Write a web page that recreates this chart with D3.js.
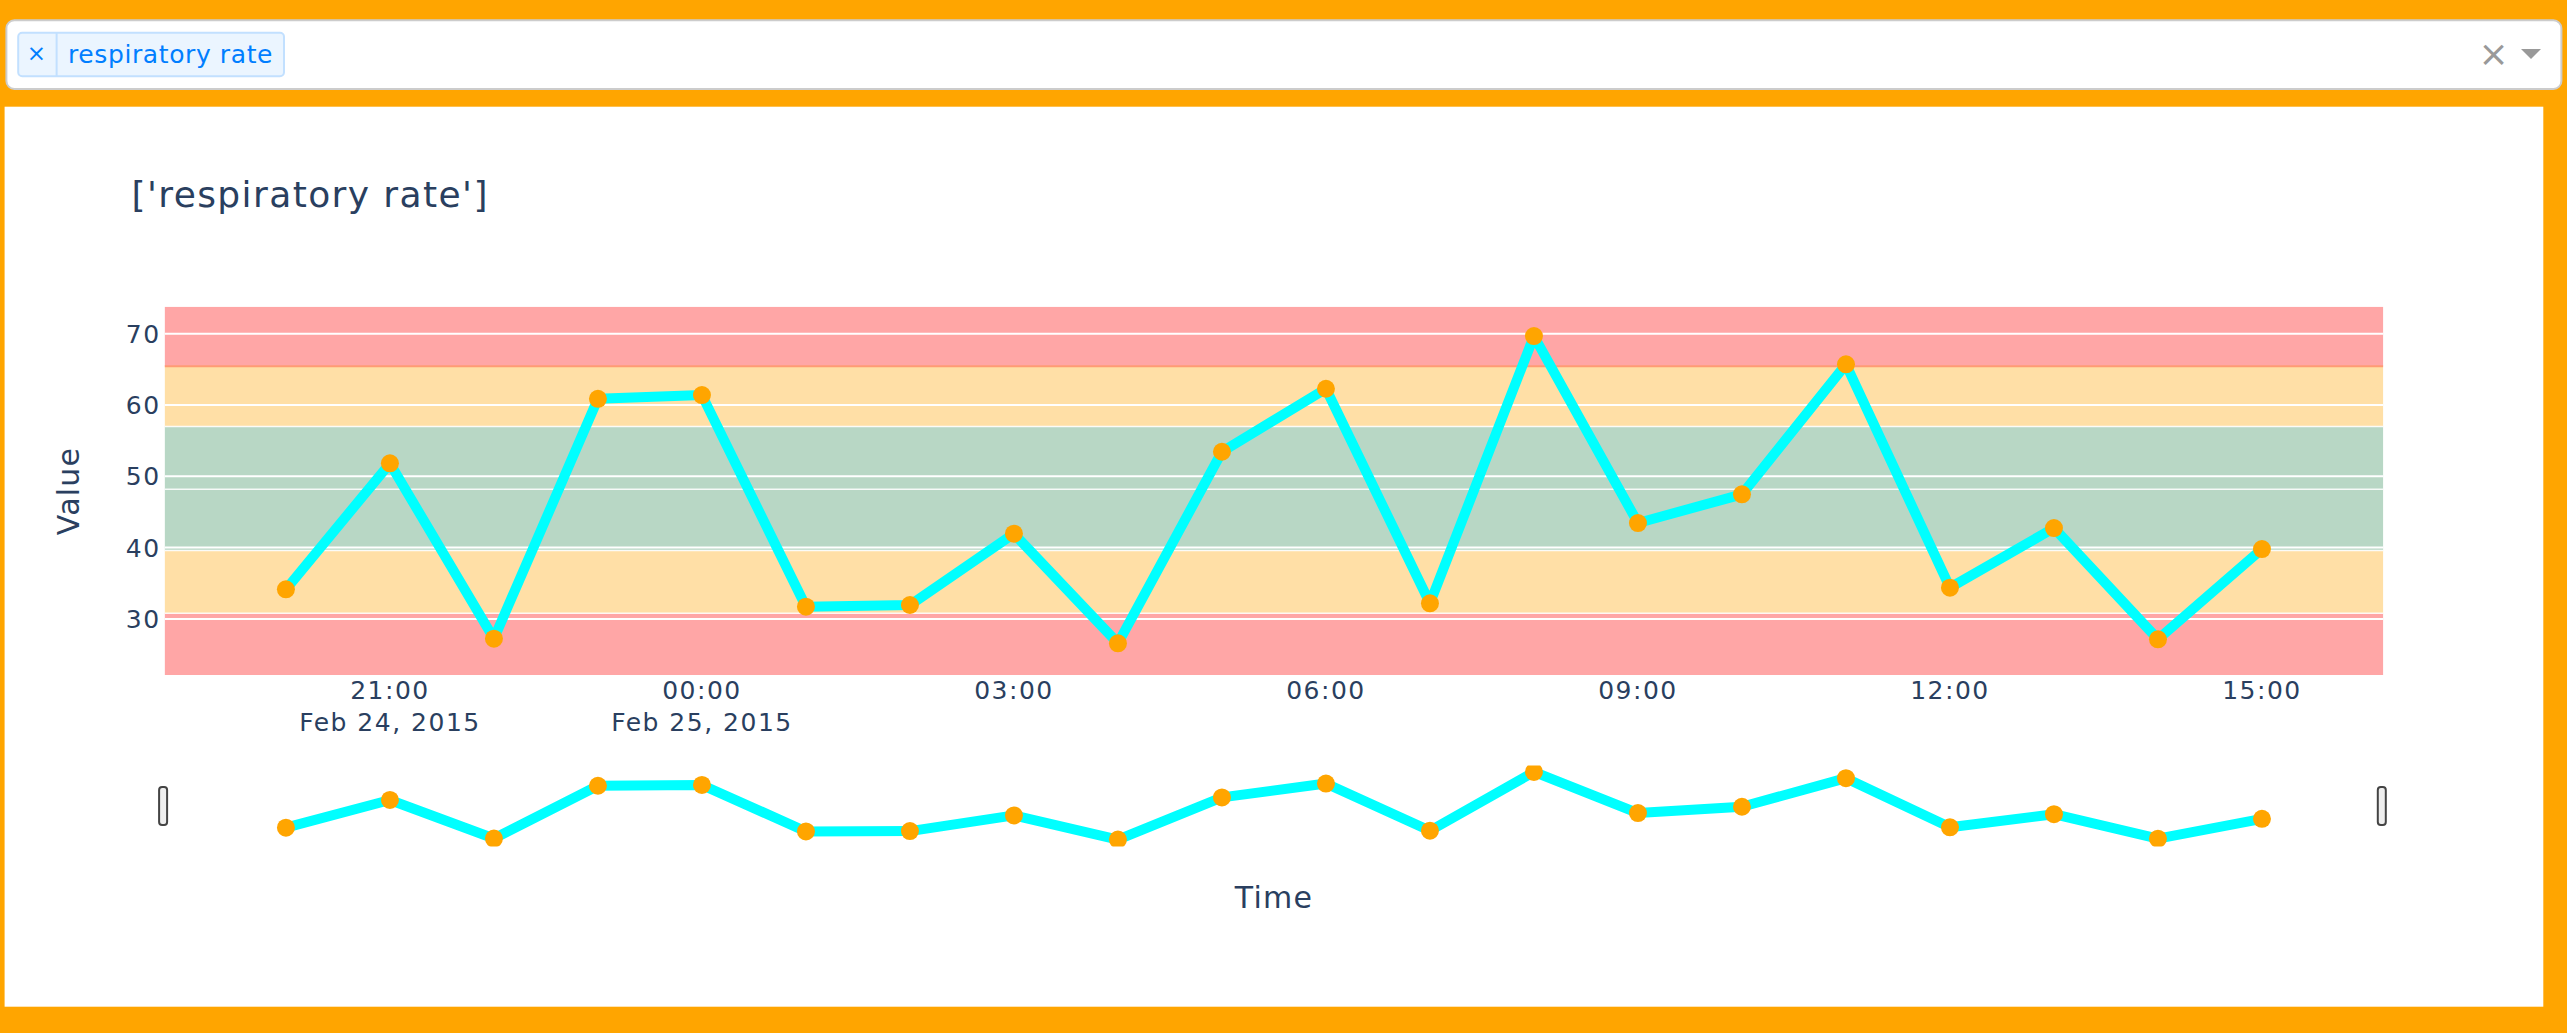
<!DOCTYPE html>
<html>
<head>
<meta charset="utf-8">
<script src="https://cdn.jsdelivr.net/npm/d3@7"></script>
<style>
  body { margin: 0; background: #ffa500; overflow: hidden; }
  svg { display: block; }
  text { font-family: "DejaVu Sans", Verdana, sans-serif; }
</style>
</head>
<body>
<svg id="chart" width="2567" height="1033"></svg>
<script>
// hourly readings
var times = ["2015-02-24 20:00", "2015-02-24 21:00", "2015-02-24 22:00", "2015-02-24 23:00",
             "2015-02-25 00:00", "2015-02-25 01:00", "2015-02-25 02:00", "2015-02-25 03:00",
             "2015-02-25 04:00", "2015-02-25 05:00", "2015-02-25 06:00", "2015-02-25 07:00",
             "2015-02-25 08:00", "2015-02-25 09:00", "2015-02-25 10:00", "2015-02-25 11:00",
             "2015-02-25 12:00", "2015-02-25 13:00", "2015-02-25 14:00", "2015-02-25 15:00"];
var values = [34.15, 51.82, 27.22, 60.88, 61.40, 31.71, 31.95, 41.95, 26.58, 53.45,
              62.29, 32.19, 69.68, 43.45, 47.48, 65.71, 34.38, 42.75, 27.14, 39.80];

// alarm bands (low, high, colour)
var bandLow   = [22.13, 30.8, 39.6, 48.2, 57.0, 65.45];
var bandHigh  = [30.8, 39.6, 48.2, 57.0, 65.45, 73.8];
var bandColor = ["#ffa6a6", "#ffdfa6", "#b8d7c5", "#b8d7c5", "#ffdfa6", "#ffa6a6"];

var yTicks = [30, 40, 50, 60, 70];
var xRange = ["2015-02-24 18:50", "2015-02-25 16:10"];
var yRange = [22.13, 73.8];
var selected = ["respiratory rate"];

(function() {
var parse = d3.timeParse("%Y-%m-%d %H:%M");
var data = times.map(function(t, i) { return {t: parse(t), v: values[i]}; });

var svg = d3.select("#chart");
var textColor = "#2a3f5f";

// ---- dropdown ----
svg.append("rect")
    .attr("x", 6.4).attr("y", 20.3)
    .attr("width", 2555).attr("height", 68.7)
    .attr("rx", 8)
    .attr("fill", "#fff").attr("stroke", "#ccc").attr("stroke-width", 2);

var tag = svg.append("g");
tag.append("rect")
    .attr("x", 18.2).attr("y", 32.7)
    .attr("width", 265.8).attr("height", 43.6)
    .attr("rx", 4)
    .attr("fill", "#ebf5ff").attr("stroke", "#c2e0ff").attr("stroke-width", 2);
tag.append("line")
    .attr("x1", 56.6).attr("x2", 56.6).attr("y1", 33).attr("y2", 76)
    .attr("stroke", "#c2e0ff").attr("stroke-width", 2);
tag.append("text")
    .attr("x", 36.4).attr("y", 61)
    .attr("text-anchor", "middle")
    .attr("font-size", 23).attr("fill", "#007eff")
    .text("×");
tag.append("text")
    .attr("x", 68).attr("y", 62.5)
    .attr("font-size", 25)
    .attr("letter-spacing", 0.6)
    .attr("fill", "#007eff")
    .text(selected[0]);

svg.append("text")
    .attr("x", 2493.5).attr("y", 66)
    .attr("text-anchor", "middle")
    .attr("font-size", 36).attr("fill", "#999")
    .text("×");
svg.append("path")
    .attr("d", "M2521,49 L2541,49 L2531,59 Z")
    .attr("fill", "#999");

// ---- chart card ----
svg.append("rect")
    .attr("x", 4.6).attr("y", 106.7)
    .attr("width", 2538.7).attr("height", 900)
    .attr("fill", "#fff");

svg.append("text")
    .attr("x", 131.5).attr("y", 207)
    .attr("font-size", 36)
    .attr("letter-spacing", 1.4)
    .attr("fill", textColor)
    .text("['" + selected.join("', '") + "']");

var plotLeft = 164.6, plotRight = 2383.3, plotTop = 306.7, plotBottom = 675;
var sliderTop = 765.5, sliderBottom = 846.5;

var x = d3.scaleTime()
    .domain(xRange.map(parse))
    .range([plotLeft, plotRight]);
var y = d3.scaleLinear()
    .domain(yRange)
    .range([plotBottom, plotTop]);
var ys = d3.scaleLinear()
    .domain(yRange)
    .range([sliderBottom, sliderTop]);

var defs = svg.append("defs");
defs.append("clipPath").attr("id", "plotclip")
  .append("rect").attr("x", plotLeft).attr("y", plotTop)
    .attr("width", plotRight - plotLeft).attr("height", plotBottom - plotTop);
defs.append("clipPath").attr("id", "sliderclip")
  .append("rect").attr("x", plotLeft).attr("y", sliderTop)
    .attr("width", plotRight - plotLeft).attr("height", sliderBottom - sliderTop);

var plot = svg.append("g").attr("clip-path", "url(#plotclip)");

// bands
plot.selectAll(".band")
    .data(bandLow)
    .enter().append("rect")
    .attr("class", "band")
    .attr("x", plotLeft)
    .attr("width", plotRight - plotLeft)
    .attr("y", function(d, i) { return y(bandHigh[i]); })
    .attr("height", function(d, i) { return y(bandLow[i]) - y(bandHigh[i]); })
    .attr("fill", function(d, i) { return bandColor[i]; });

// band edges (top one is the red/orange overlap)
var lastEdge = bandLow.length - 2;
plot.selectAll(".edge")
    .data(bandLow.slice(1))
    .enter().append("line")
    .attr("class", "edge")
    .attr("x1", plotLeft).attr("x2", plotRight)
    .attr("y1", function(d) { return y(d); })
    .attr("y2", function(d) { return y(d); })
    .attr("stroke", function(d, i) { return i === lastEdge ? "#ff9b74" : "#fff"; })
    .attr("stroke-opacity", function(d, i) { return i === lastEdge ? 1 : 0.85; })
    .attr("stroke-width", function(d, i) { return i === lastEdge ? 2 : 1.5; });

// grid
plot.selectAll(".grid")
    .data(yTicks)
    .enter().append("line")
    .attr("class", "grid")
    .attr("x1", plotLeft).attr("x2", plotRight)
    .attr("y1", function(d) { return y(d); })
    .attr("y2", function(d) { return y(d); })
    .attr("stroke", "#fff").attr("stroke-width", 2);

var line = d3.line()
    .x(function(d) { return x(d.t); })
    .y(function(d) { return y(d.v); });

plot.append("path")
    .datum(data)
    .attr("d", line)
    .attr("fill", "none")
    .attr("stroke", "#00ffff")
    .attr("stroke-width", 10)
    .attr("stroke-linejoin", "round");

plot.selectAll(".pt")
    .data(data)
    .enter().append("circle")
    .attr("class", "pt")
    .attr("cx", function(d) { return x(d.t); })
    .attr("cy", function(d) { return y(d.v); })
    .attr("r", 9)
    .attr("fill", "#ffa500");

// y tick labels
svg.append("g")
    .selectAll("text")
    .data(yTicks)
    .enter().append("text")
    .attr("x", plotLeft - 4)
    .attr("y", function(d) { return y(d); })
    .attr("dy", "0.36em")
    .attr("text-anchor", "end")
    .attr("font-size", 25)
    .attr("letter-spacing", 1.5)
    .attr("fill", textColor)
    .text(function(d) { return d; });

// x tick labels
var xTicks = x.ticks(d3.timeHour.every(3));
var fmtTime = d3.timeFormat("%H:%M"), fmtDate = d3.timeFormat("%b %-d, %Y");
var xl = svg.append("g")
    .selectAll("text")
    .data(xTicks)
    .enter().append("text")
    .attr("x", function(d) { return x(d); })
    .attr("y", 699.3)
    .attr("text-anchor", "middle")
    .attr("font-size", 25)
    .attr("letter-spacing", 1.5)
    .attr("fill", textColor);
xl.append("tspan").text(function(d) { return fmtTime(d); });
xl.filter(function(d, i) { return i === 0 || d.getHours() === 0; })
  .append("tspan")
    .attr("x", function(d) { return x(d); })
    .attr("dy", 31.7)
    .text(function(d) { return fmtDate(d); });

// axis titles
svg.append("text")
    .attr("transform", "translate(79,491) rotate(-90)")
    .attr("text-anchor", "middle")
    .attr("font-size", 30)
    .attr("letter-spacing", 1.2)
    .attr("fill", textColor)
    .text("Value");
svg.append("text")
    .attr("x", (plotLeft + plotRight) / 2).attr("y", 908)
    .attr("text-anchor", "middle")
    .attr("font-size", 30)
    .attr("letter-spacing", 1.2)
    .attr("fill", textColor)
    .text("Time");

// ---- range slider ----
var slider = svg.append("g").attr("clip-path", "url(#sliderclip)");
var sline = d3.line()
    .x(function(d) { return x(d.t); })
    .y(function(d) { return ys(d.v); });
slider.append("path")
    .datum(data)
    .attr("d", sline)
    .attr("fill", "none")
    .attr("stroke", "#00ffff")
    .attr("stroke-width", 10)
    .attr("stroke-linejoin", "round");
slider.selectAll("circle")
    .data(data)
    .enter().append("circle")
    .attr("cx", function(d) { return x(d.t); })
    .attr("cy", function(d) { return ys(d.v); })
    .attr("r", 9)
    .attr("fill", "#ffa500");

svg.selectAll(".grab")
    .data([plotLeft, plotRight])
    .enter().append("rect")
    .attr("class", "grab")
    .attr("x", function(d) { return d - 5.5; })
    .attr("y", (sliderTop + sliderBottom) / 2 - 19)
    .attr("width", 8).attr("height", 38)
    .attr("rx", 3)
    .attr("fill", "#eee").attr("stroke", "#444").attr("stroke-width", 2);
})();
</script>
</body>
</html>
